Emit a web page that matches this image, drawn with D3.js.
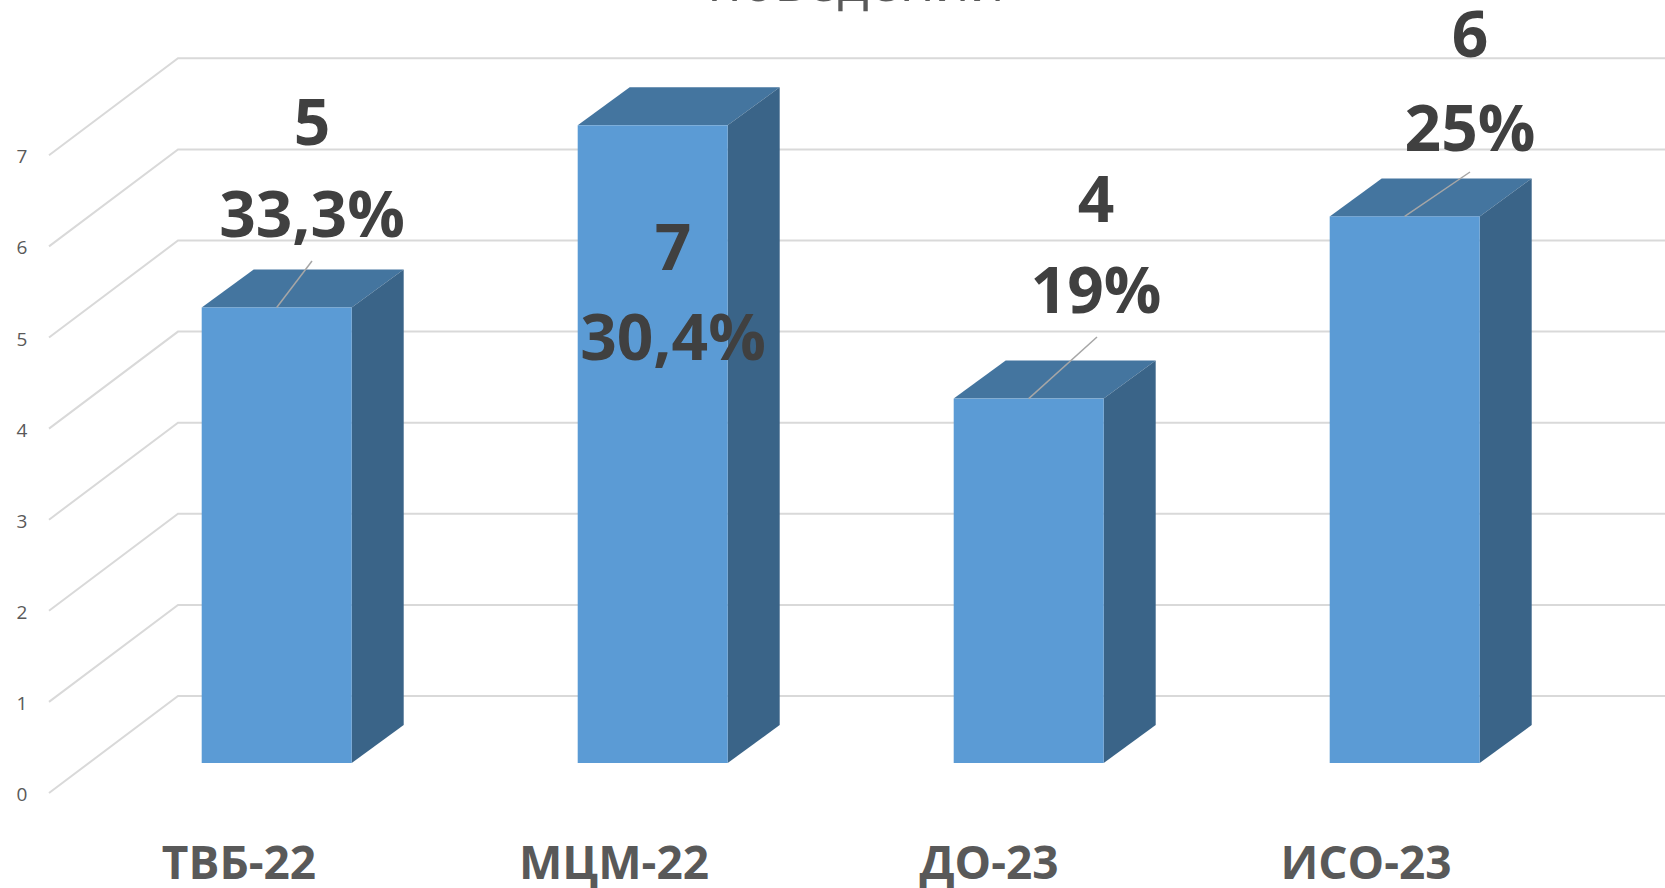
<!DOCTYPE html>
<html><head><meta charset="utf-8">
<script src="https://d3js.org/d3.v7.min.js"></script>
<style>html,body{margin:0;padding:0;background:#fff}svg{display:block}text{font-family:"Open Sans",sans-serif}</style>
</head><body><svg id="c" width="1665" height="888"></svg>
<script>
const categories=["ТВБ-22","МЦМ-22","ДО-23","ИСО-23"];
const values=[5,7,4,6];
const percents=["33,3%","30,4%","19%","25%"];
const yTicks=[0,1,2,3,4,5,6,7];
const title="поведении";
const valueLabelAnchors=[[145,237],[270,360],[222,313],[57,151]];
const valueLabelX=[312,673,1096,1470];
const leaderEnds=[[312,261],null,[1097,337],[1470,172]];
const catLabelX=[239,614,989,1366];

const W=1665,H=888;
const svg=d3.select("#c");
const y=d3.scaleLinear().domain([0,7]).range([763,125.3]);
const x=d3.scalePoint().domain(categories).range([276.7,1404.7]);
const depthX=52,depthY=38;
const wallFrontX=49,wallBackX=178,wallFrontDy=30,wallBackDy=-67;

const grid=svg.append("g");
grid.selectAll("path").data(yTicks).join("path")
 .attr("d",t=>{const v=y(t);return `M${wallFrontX},${v+wallFrontDy}L${wallBackX},${v+wallBackDy}L${W},${v+wallBackDy}`;})
 .attr("fill","none").attr("stroke","#d9d9d9").attr("stroke-width",2);

svg.append("g").selectAll("text").data(yTicks).join("text")
 .attr("x",22).attr("y",t=>y(t)+38).attr("text-anchor","middle")
 .attr("font-size",19).attr("fill","#595959").text(t=>t);

const bars=svg.append("g").selectAll("g").data(categories.map((c,i)=>({c,v:values[i]}))).join("g");
const bw=150;
const bx=d=>x(d.c)-bw/2;
bars.append("path").attr("fill","#44759f").attr("d",d=>{const a=bx(d),t=y(d.v);
 return `M${a},${t}L${a+depthX},${t-depthY}H${a+bw+depthX}L${a+bw},${t}Z`;});
bars.append("path").attr("fill","#3a6488").attr("d",d=>{const a=bx(d)+bw,t=y(d.v),b=y(0);
 return `M${a},${t}L${a+depthX},${t-depthY}V${b-depthY}L${a},${b}Z`;});
bars.append("rect").attr("fill","#5b9bd5").attr("x",bx).attr("width",bw)
 .attr("y",d=>y(d.v)).attr("height",d=>y(0)-y(d.v));

svg.append("g").selectAll("line").data(categories.map((c,i)=>({c,v:values[i],e:leaderEnds[i]})).filter(d=>d.e)).join("line")
 .attr("x1",d=>x(d.c)).attr("y1",d=>y(d.v))
 .attr("x2",d=>d.e[0]).attr("y2",d=>d.e[1]).attr("stroke","#a6a6a6").attr("stroke-width",1.5);

const lab=svg.append("g").attr("fill","#404040").attr("font-weight",700).attr("text-anchor","middle");
values.forEach((v,i)=>{
 lab.append("text").attr("x",valueLabelX[i]).attr("y",valueLabelAnchors[i][0]).attr("font-size",64).text(v);
 lab.append("text").attr("x",valueLabelX[i]).attr("y",valueLabelAnchors[i][1]).attr("font-size",64).text(percents[i]);
});

svg.append("g").selectAll("text").data(categories).join("text")
 .attr("x",(d,i)=>catLabelX[i]).attr("y",879).attr("text-anchor","middle")
 .attr("font-size",46).attr("font-weight",700).attr("fill","#595959").text(d=>d);

svg.append("text").attr("x",856).attr("y",1).attr("text-anchor","middle")
 .attr("font-size",55).attr("fill","#595959").text(title);
</script></body></html>
